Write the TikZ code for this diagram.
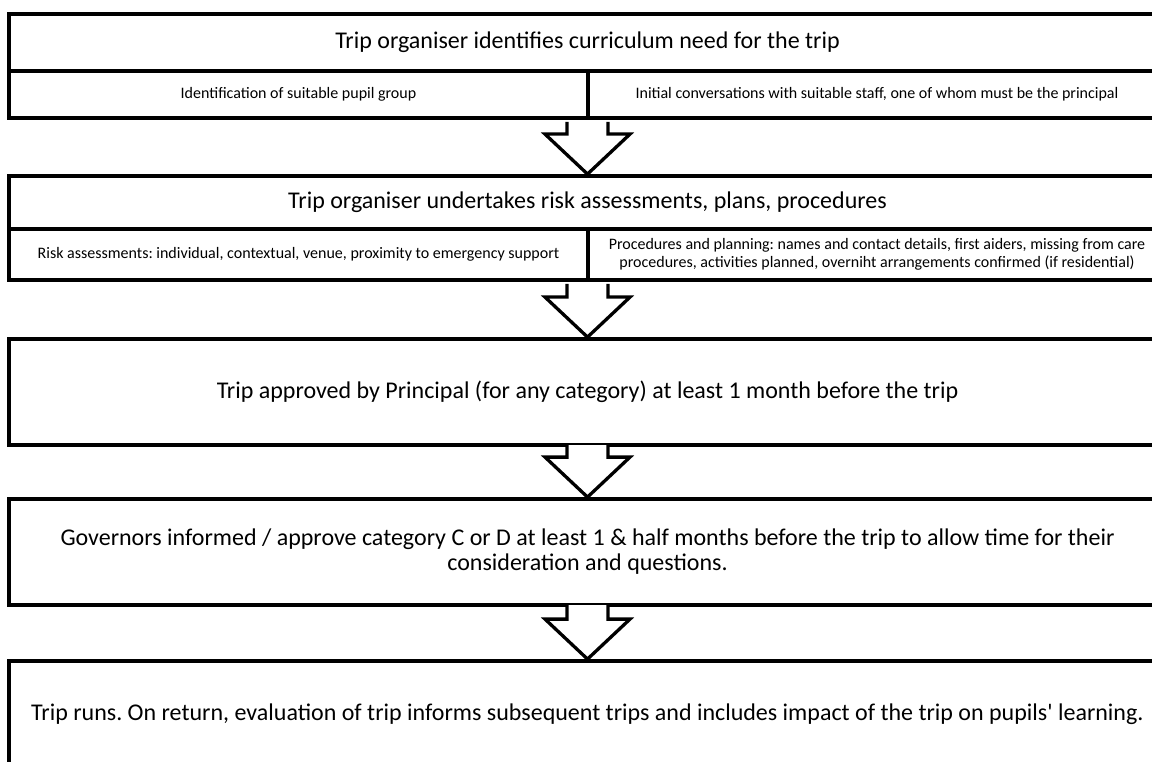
\documentclass[tikz,border=0pt]{standalone}
\usepackage{fontspec}
\setmainfont{Carlito}
\usepackage{tikz}
\usetikzlibrary{calc}
\tikzset{cell/.style={draw, line width=3.8pt, rectangle, inner sep=0pt, align=center}}
\tikzset{blockarrow/.style={draw, fill=white, line width=3.3pt, line join=miter}}
\newcommand{\bigtxt}{\fontsize{24}{25}\selectfont}
\newcommand{\smalltxt}{\fontsize{16}{18.5}\selectfont}
\frenchspacing

\begin{document}
\begin{tikzpicture}[x=1pt,y=-1pt]
\useasboundingbox (0,0) rectangle (1152,762);
\clip (0,0) rectangle (1152,762);

\node[cell,minimum width=1157pt,minimum height=57pt,font=\bigtxt] (need) at (587.5,42.5) {Trip organiser identifies curriculum need for the trip};
\node[cell,minimum width=579pt,minimum height=47pt,font=\smalltxt] (group) at (298.5,94.5) {Identification of suitable pupil group};
\node[cell,minimum width=578pt,minimum height=47pt,font=\smalltxt] (staff) at (877,94.5) {Initial conversations with suitable staff, one of whom must be the principal};

\node[cell,minimum width=1157pt,minimum height=53pt,font=\bigtxt] (plans) at (587.5,202.5) {Trip organiser undertakes risk assessments, plans, procedures};
\node[cell,minimum width=579pt,minimum height=51pt,font=\smalltxt] (risk) at (298.5,254.5) {Risk assessments: individual, contextual, venue, proximity to emergency support};
\node[cell,minimum width=578pt,minimum height=51pt,font=\smalltxt] (procs) at (877,254.5) {Procedures and planning: names and contact details, first aiders, missing from care\\ procedures, activities planned, overniht arrangements confirmed (if residential)};

\node[cell,minimum width=1157pt,minimum height=106pt,font=\bigtxt] (approve) at (587.5,392) {Trip approved by Principal (for any category) at least 1 month before the trip};
\node[cell,minimum width=1157pt,minimum height=106pt,font=\bigtxt] (governors) at (587.5,552) {Governors informed / approve category C or D at least 1 \& half months before the trip to allow time for their\\ consideration and questions.};
\node[cell,minimum width=1157pt,minimum height=106pt,font=\bigtxt] (runs) at (587.5,714) {Trip runs. On return, evaluation of trip informs subsequent trips and includes impact of the trip on pupils\textquotesingle{} learning.};

\foreach \a/\b/\o in {group.south east/plans.north/-1.9, risk.south east/approve.north/-1.9, approve.south/governors.north/1.9, governors.south/runs.north/1.9}
  {
    \draw[blockarrow] let \p1=(\a), \p2=(\b) in
      (\x2-20.5pt,\y1+\o pt) -- (\x2-20.5pt,\y2+40pt) -- (\x2-42.5pt,\y2+40pt) -- (\p2)
      -- (\x2+42.5pt,\y2+40pt) -- (\x2+20.5pt,\y2+40pt) -- (\x2+20.5pt,\y1+\o pt);
  }

\end{tikzpicture}
\end{document}
